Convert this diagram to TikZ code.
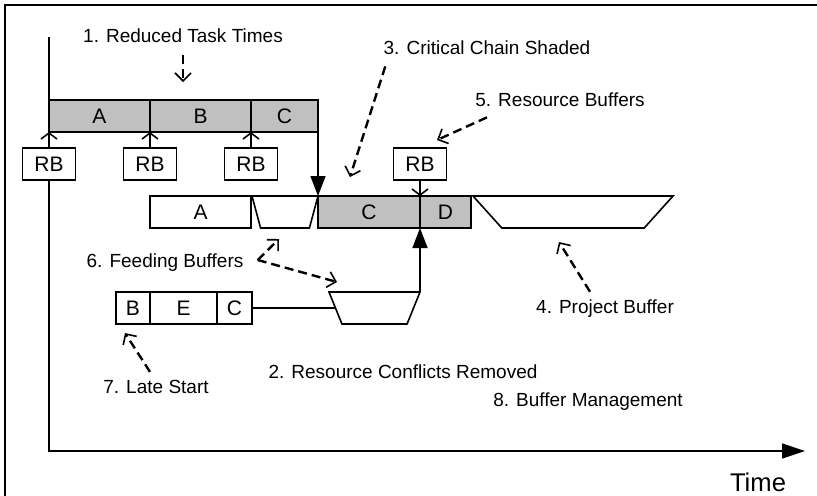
\documentclass[tikz,border=0pt]{standalone}
\usepackage{fontspec}
\setmainfont{Liberation Sans}
\usetikzlibrary{arrows.meta,shapes.geometric}
\definecolor{chaingray}{HTML}{C0C0C0}

\tikzset{
  task/.style={draw, line width=0.8pt, inner sep=0pt, outer sep=0pt, minimum height=16pt, font=\fontsize{10.5}{12}\selectfont},
  crit/.style={task, fill=chaingray},
  rbox/.style={task, minimum width=26.5pt},
  buffer/.style={draw, line width=0.8pt, trapezium, shape border rotate=180, trapezium stretches body, inner xsep=0pt, inner ysep=8pt, outer sep=0pt},
  note/.style={font=\fontsize{9.5}{11}\selectfont, inner sep=1pt},
  callout/.style={line width=1.2pt, dash pattern=on 4.5pt off 2.5pt, -{Straight Barb[length=4pt,width=8pt,line width=0.8pt]}},
  rblink/.style={line width=0.8pt, -{Straight Barb[length=3pt,width=8pt]}},
  feedlink/.style={line width=0.8pt, -{Triangle[length=10pt,width=7.5pt]}},
}

\begin{document}
\begin{tikzpicture}[x=0.5pt,y=-0.5pt]
	%%%%% FRAME %%%%%
	\useasboundingbox (0,0) rectangle (817,495);
	\draw[line width=1pt] (4.5,4.5) rectangle (819,497);
	
	% first plan
	\node[crit, minimum width=50.5pt] (a1) at (99.5,116) {A};
	\node[crit, minimum width=50.5pt] (b1) at (200.5,116) {B};
	\node[crit, minimum width=33.5pt] (c1) at (284.5,116) {C};
	
	\node[rbox] (rb1) at (49,164) {RB};
	\node[rbox] (rb2) at (150,164) {RB};
	\node[rbox] (rb3) at (251,164) {RB};
	\node[rbox] (rb4) at (420,164) {RB};
	
	% critical chain
	\node[task, minimum width=50.5pt] (a2) at (200.5,212) {A};
	\node[buffer, trapezium left angle=75, trapezium right angle=75, minimum width=33pt] (fb1) at (285,212) {};
	\node[crit, minimum width=51pt] (c2) at (369,212) {C};
	\node[crit, minimum width=25.5pt] (d2) at (445.5,212) {D};
	\node[buffer, trapezium left angle=48, trapezium right angle=48, minimum width=100pt] (pb) at (573,212) {};
	
	% feeding chain
	\node[task, minimum width=17pt] (b3) at (133,308) {B};
	\node[task, minimum width=33.5pt] (e3) at (183.5,308) {E};
	\node[task, minimum width=17.5pt] (c3) at (234.5,308) {C};
	\node[buffer, trapezium left angle=68, trapezium right angle=68, minimum width=45.5pt] (fb2) at (374.5,308) {};
	
	% axes
	\coordinate (ytop) at (49,37);
	\coordinate (tend) at (805,451);
	\draw[line width=0.8pt] (ytop) -- (a1.north west);
	\draw[line width=0.8pt, -{Triangle[length=11.5pt,width=7.5pt]}] (rb1) |- (tend);
	\node[font=\fontsize{12.8}{15}\selectfont] (time) at (758,482) {Time};
	
	% links
	\draw[rblink] (rb1) -- (a1.south west);
	\draw[rblink] (rb2) -- (b1.south west);
	\draw[rblink] (rb3) -- (c1.south west);
	\draw[rblink] (rb4) -- (d2.north west);
	\draw[feedlink] (c1.south east) -- (c2.north west);
	\draw[line width=0.8pt] (c3.east) -- (fb2);
	\draw[feedlink] (c3.north -| d2.south west) -- (d2.south west);
	
	% notes
	\node[note] (l1) at (183,36) {1. Reduced Task Times};
	\node[note] (l2) at (403,372) {2. Resource Conflicts Removed};
	\node[note] (l3) at (487,48) {3. Critical Chain Shaded};
	\node[note] (l4) at (605,309) {4. Project Buffer};
	\node[note] (l5) at (560,100) {5. Resource Buffers};
	\node[note] (l6) at (165,263) {6. Feeding Buffers};
	\node[note] (l7) at (156,387) {7. Late Start};
	\node[note] (l8) at (588,402) {8. Buffer Management};
	
	\coordinate (t1) at (183,82);
	\coordinate (t3) at (350,177);
	\coordinate (t4) at (559,242);
	\coordinate (t5) at (437,140);
	\coordinate (t6a) at (279,239);
	\coordinate (t6b) at (337,282);
	\coordinate (t7) at (125,333);
	
	\draw[callout] ([yshift=-5pt]l1.south) -- (t1);
	\draw[callout] ([xshift=2pt,yshift=-4.5pt]l3.south west) -- (t3);
	\draw[callout] ([xshift=-7.5pt,yshift=3pt]l4.north) -- (t4);
	\draw[callout] ([xshift=7pt,yshift=-4pt]l5.south west) -- (t5);
	\draw[callout] ([xshift=6pt,yshift=1.5pt]l6.east) -- (t6a);
	\draw[callout] ([xshift=6pt,yshift=1.5pt]l6.east) -- (t6b);
	\draw[callout] ([xshift=-3pt,yshift=3pt]l7.north) -- (t7);
	
\end{tikzpicture}
\end{document}
